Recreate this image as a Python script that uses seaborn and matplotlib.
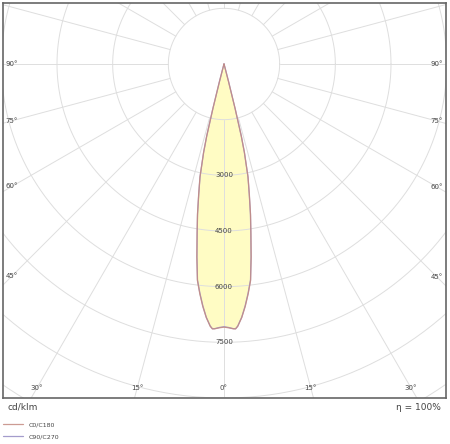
"""Polar light distribution curve (cd/klm) for a narrow-beam luminaire."""

import matplotlib

matplotlib.use("Agg")
import matplotlib.pyplot as plt
import numpy as np
import pandas as pd
import seaborn as sns

# Data: intensity (cd/klm) vs. gamma angle from nadir
gamma_deg = [0, 1, 2, 2.5, 3, 4, 5, 6, 7, 8, 9, 10, 11, 12, 13, 13.5, 14, 14.5, 15, 16, 17.5,
             20, 30, 45, 60, 75, 90]
c0_c180 = [7090, 7110, 7140, 7145, 7080, 6850, 6560, 6230, 5880, 5260, 4640, 4120, 3580,
           3120, 2450, 2000, 1250, 500, 120, 20, 0, 0, 0, 0, 0, 0, 0]
c90_c270 = [7080, 7100, 7135, 7140, 7070, 6840, 6540, 6210, 5860, 5240, 4620, 4100, 3560,
            3100, 2430, 1980, 1230, 490, 110, 20, 0, 0, 0, 0, 0, 0, 0]

ring_values = [1500, 3000, 4500, 6000, 7500, 9000, 10500]
ring_labels = ["3000", "4500", "6000", "7500"]
side_angles = [90, 75, 60, 45]
bottom_angles = [30, 15, 0]
spoke_angles = list(range(0, 360, 15))

sns.set_theme(style="white")
plt.rcParams["font.family"] = ["DejaVu Sans"]

TEXT = "#444444"
GRID = "#dedede"


def to_xy(angles, values):
    """Mirror a half-plane curve (gamma 0..90) onto both sides of nadir."""
    ang = np.array(angles, dtype=float)
    val = np.array(values, dtype=float)
    a = np.radians(np.concatenate([-ang[::-1], ang[1:]]))
    r = np.concatenate([val[::-1], val[1:]])
    return pd.DataFrame({"x": r * np.sin(a), "y": -r * np.cos(a)})


fig = plt.figure(figsize=(4.5, 4.44), dpi=100)
ax = fig.add_axes([3 / 450, 46 / 444, 443 / 450, 395 / 444])

# pixel geometry of the plot box -> data limits (cd per pixel)
s = 9000 / 334
ax.set_xlim(-221 * s, 222 * s)
ax.set_ylim(-334 * s, 61 * s)

c0 = to_xy(gamma_deg, c0_c180)
c90 = to_xy(gamma_deg, c90_c270)
ax.fill(c0["x"], c0["y"], color="#fffcc4", zorder=1, lw=0)

# grid: rings and spokes
t = np.linspace(0, 2 * np.pi, 400)
for rv in ring_values:
    ax.plot(rv * np.cos(t), rv * np.sin(t), color=GRID, lw=0.7, zorder=2)
for a in spoke_angles:
    ar = np.radians(a)
    ax.plot([1500 * np.sin(ar), 14000 * np.sin(ar)],
            [-1500 * np.cos(ar), -14000 * np.cos(ar)], color=GRID, lw=0.7, zorder=2)

sns.lineplot(data=c90, x="x", y="y", sort=False, estimator=None, ax=ax, color="#a49ccc",
             lw=0.9, label="C90/C270", zorder=4, legend=False)
sns.lineplot(data=c0, x="x", y="y", sort=False, estimator=None, ax=ax, color="#c48a80",
             lw=0.9, alpha=0.85, label="C0/C180", zorder=5, legend=False)

# intensity labels along nadir
for lab in ring_labels:
    ax.text(0, -float(lab), lab, ha="center", va="center", fontsize=5, color=TEXT, zorder=6)

# angle labels where spokes meet the box edges
for a in side_angles:
    ar = np.radians(a)
    for xe in (-212 * s, 213 * s):
        ax.text(xe, -abs(xe) * np.cos(ar) / np.sin(ar), f"{a}°", ha="center",
                va="center", fontsize=5, color=TEXT, zorder=6)
yb = -324 * s
for a in bottom_angles:
    for sign in ((-1, 1) if a else (1,)):
        ax.text(sign * abs(yb) * np.tan(np.radians(a)), yb, f"{a}°", ha="center",
                va="center", fontsize=5, color=TEXT, zorder=6)

ax.set_xlabel("")
ax.set_ylabel("")
ax.set_xticks([])
ax.set_yticks([])
for sp in ax.spines.values():
    sp.set_color("#666666")
    sp.set_linewidth(1.2)

fig.text(7 / 450, 1 - 407 / 444, "cd/klm", ha="left", va="center", fontsize=6.5, color=TEXT)
fig.text(441 / 450, 1 - 407 / 444, "η = 100%", ha="right", va="center", fontsize=6.5, color=TEXT)

handles, labels = ax.get_legend_handles_labels()
order = [labels.index("C0/C180"), labels.index("C90/C270")]
fig.legend([handles[i] for i in order], [labels[i] for i in order], loc="upper left",
           bbox_to_anchor=(0.0, 1 - 419 / 444), frameon=False, fontsize=4.5,
           handlelength=3.2, handletextpad=0.9, labelspacing=1.0, borderpad=0.3,
           borderaxespad=0.2, labelcolor=TEXT)

fig.savefig("out.png", dpi=100, facecolor="white")
